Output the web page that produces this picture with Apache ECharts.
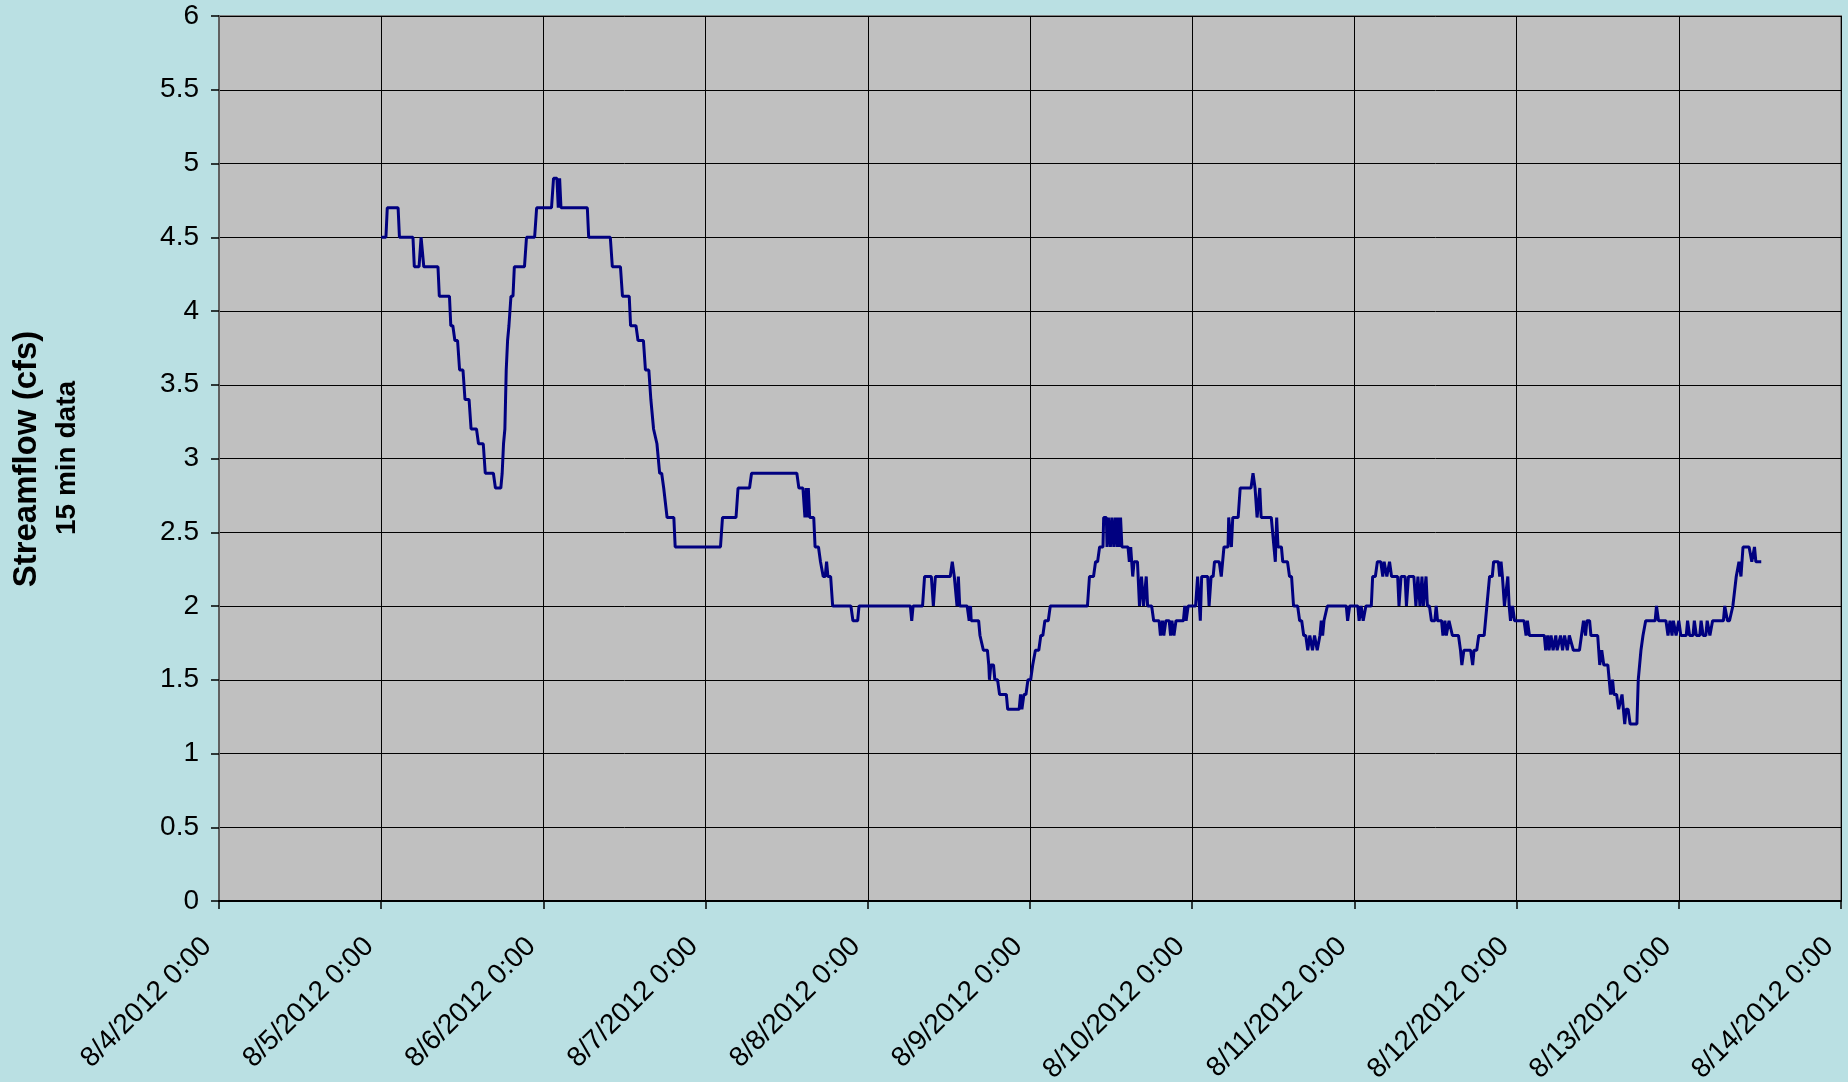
<!DOCTYPE html>
<html>
<head>
<meta charset="utf-8">
<script src="https://cdn.jsdelivr.net/npm/echarts@6/dist/echarts.min.js"></script>
<style>
html,body{margin:0;padding:0;background:#BAE0E3;}
#chart{width:1848px;height:1082px;}
</style>
</head>
<body>
<div id="chart"></div>
<script>
// x tick labels (one per day, 8/4 through 8/14)
var dayLabels = ['8/4/2012 0:00','8/5/2012 0:00','8/6/2012 0:00','8/7/2012 0:00','8/8/2012 0:00','8/9/2012 0:00','8/10/2012 0:00','8/11/2012 0:00','8/12/2012 0:00','8/13/2012 0:00','8/14/2012 0:00'];
// hours from 8/4/2012 0:00 at which the record starts
var recordStartHour = 24;
// [hours since 8/5/2012 0:00, streamflow cfs] readings (level changes of the 15-min record)
var readings = [
[0,4.5],[0.7,4.5],[0.9,4.7],[2.5,4.7],[2.7,4.5],[4.7,4.5],[4.9,4.3],[5.6,4.3],[5.9,4.5],[6.3,4.3],[8.4,4.3],[8.6,4.1],[10.1,4.1],[10.3,3.9],[10.6,3.9],[10.9,3.8],[11.3,3.8],[11.6,3.6],[12.1,3.6],[12.4,3.4],[13.0,3.4],[13.3,3.2],[14.1,3.2],[14.4,3.1],[15.1,3.1],[15.4,2.9],[16.6,2.9],[16.9,2.8],[17.7,2.8],[17.9,2.9],[18.1,3.1],[18.3,3.2],[18.5,3.6],[18.7,3.8],[18.9,3.9],[19.2,4.1],[19.5,4.1],[19.7,4.3],[21.2,4.3],[21.5,4.5],[22.7,4.5],[23.0,4.7],[25.2,4.7],[25.5,4.9],[26.0,4.9],[26.2,4.7],[26.4,4.9],[26.6,4.7],[30.5,4.7],[30.7,4.5],[33.9,4.5],[34.2,4.3],[35.4,4.3],[35.7,4.1],[36.7,4.1],[36.9,3.9],[37.7,3.9],[38.0,3.8],[38.8,3.8],[39.1,3.6],[39.6,3.6],[39.9,3.4],[40.1,3.4],[40.3,3.2],[40.5,3.2],[40.8,3.1],[41.0,3.1],[41.2,2.9],[41.5,2.9],[41.8,2.8],[42.0,2.8],[42.3,2.6],[43.3,2.6],[43.5,2.4],[50.2,2.4],[50.5,2.6],[52.5,2.6],[52.8,2.8],[54.5,2.8],[54.8,2.9],[61.5,2.9],[61.8,2.8],[62.4,2.8],[62.7,2.6],[62.9,2.8],[63.1,2.6],[63.2,2.8],[63.4,2.6],[64.0,2.6],[64.2,2.4],[64.7,2.4],[65.0,2.3],[65.2,2.3],[65.4,2.2],[65.7,2.2],[65.9,2.3],[66.1,2.2],[66.5,2.2],[66.8,2.0],[69.5,2.0],[69.8,1.9],[70.5,1.9],[70.7,2.0],
[78.3,2.0],[78.5,1.9],[78.7,2.0],[80.1,2.0],[80.4,2.2],[81.4,2.2],[81.7,2.0],[82.0,2.2],[84.2,2.2],[84.5,2.3],[84.8,2.2],[85.0,2.2],[85.2,2.0],[85.4,2.2],[85.6,2.0],[86.7,2.0],[87.0,1.9],[87.2,2.0],[87.3,1.9],[88.4,1.9],[88.6,1.8],[88.8,1.8],[89.1,1.7],[89.7,1.7],[89.9,1.6],[90.0,1.5],[90.2,1.6],[90.6,1.6],[90.8,1.5],[91.2,1.5],[91.5,1.4],[92.5,1.4],[92.7,1.3],[94.4,1.3],[94.6,1.4],[94.8,1.3],[95.1,1.4],[95.4,1.4],[95.7,1.5],[96.1,1.5],[96.4,1.6],[96.6,1.6],[96.8,1.7],[97.3,1.7],[97.6,1.8],[97.9,1.8],[98.2,1.9],[98.7,1.9],[99.0,2.0],
[104.5,2.0],[104.8,2.2],[105.4,2.2],[105.7,2.3],[106.0,2.3],[106.3,2.4],[106.8,2.4],[106.9,2.6],[107.3,2.6],[107.4,2.4],[107.6,2.6],[107.9,2.4],[108.1,2.6],[108.4,2.4],[108.6,2.6],[108.9,2.4],[109.0,2.6],[109.2,2.4],[109.4,2.6],[109.6,2.4],[110.5,2.4],[110.7,2.3],[110.9,2.4],[111.2,2.2],[111.4,2.3],[111.9,2.3],[112.2,2.0],[112.5,2.2],[112.8,2.0],[113.2,2.2],[113.4,2.0],[114.0,2.0],[114.3,1.9],[115.1,1.9],[115.3,1.8],[115.6,1.9],[115.8,1.8],[116.1,1.9],[116.6,1.9],[116.8,1.8],[117.0,1.9],[117.3,1.8],[117.6,1.9],[118.7,1.9],[118.9,2.0],[119.1,1.9],[119.4,2.0],
[120.5,2.0],[120.8,2.2],[121.0,2.2],[121.2,1.9],[121.4,2.2],[122.3,2.2],[122.5,2.0],[122.8,2.2],[123.1,2.2],[123.3,2.3],[124.0,2.3],[124.3,2.2],[124.7,2.4],[125.3,2.4],[125.4,2.6],[125.8,2.4],[126.0,2.6],[126.8,2.6],[127.1,2.8],[128.7,2.8],[129.0,2.9],[129.3,2.8],[129.6,2.6],[130.0,2.8],[130.2,2.6],[131.7,2.6],[132.3,2.3],[132.5,2.6],[132.7,2.4],[133.2,2.4],[133.4,2.3],[134.1,2.3],[134.4,2.2],[134.7,2.2],[135.0,2.0],[135.6,2.0],[135.9,1.9],[136.2,1.9],[136.5,1.8],[136.8,1.8],[137.1,1.7],[137.4,1.8],[137.8,1.7],[138.1,1.8],[138.5,1.7],[138.9,1.8],[139.1,1.9],[139.3,1.8],[139.5,1.9],[140.0,2.0],[142.8,2.0],[143.0,1.9],[143.3,2.0],
[144.5,2.0],[144.7,1.9],[145.0,2.0],[145.3,1.9],[145.7,2.0],[146.5,2.0],[146.7,2.2],[147.1,2.2],[147.4,2.3],[147.9,2.3],[148.2,2.2],[148.4,2.3],[148.8,2.2],[149.2,2.3],[149.5,2.2],[150.4,2.2],[150.6,2.0],[150.9,2.2],[151.5,2.2],[151.7,2.0],[152.0,2.2],[152.8,2.2],[153.1,2.0],[153.4,2.2],[153.7,2.0],[154.0,2.2],[154.2,2.0],[154.6,2.2],[154.8,2.0],[155.1,2.0],[155.4,1.9],[155.9,1.9],[156.1,2.0],[156.3,1.9],[156.9,1.9],[157.1,1.8],[157.4,1.9],[157.6,1.8],[158.0,1.9],[158.5,1.8],[159.4,1.8],[159.7,1.7],[159.9,1.6],[160.2,1.7],[161.2,1.7],[161.5,1.6],[161.7,1.7],[162.1,1.7],[162.4,1.8],[163.2,1.8],[163.6,2.0],[164.0,2.2],[164.4,2.2],[164.6,2.3],[165.3,2.3],[165.5,2.2],[165.7,2.3],[165.9,2.2],[166.2,2.0],[166.7,2.2],[166.9,2.0],[167.1,1.9],[167.4,2.0],[167.7,1.9],
[169.1,1.9],[169.4,1.8],[169.6,1.9],[169.9,1.8],[172.1,1.8],[172.3,1.7],[172.6,1.8],[172.8,1.7],[173.1,1.8],[173.4,1.7],[173.8,1.8],[174.0,1.7],[174.5,1.8],[174.8,1.7],[175.1,1.8],[175.5,1.7],[175.8,1.8],[176.4,1.7],[177.3,1.7],[177.6,1.8],[177.9,1.9],[178.2,1.8],[178.4,1.9],[178.8,1.9],[179.0,1.8],[180.0,1.8],[180.3,1.6],[180.6,1.7],[180.9,1.6],[181.5,1.6],[181.9,1.4],[182.2,1.5],[182.4,1.4],[182.8,1.4],[183.1,1.3],[183.6,1.4],[183.8,1.3],[184.0,1.2],[184.2,1.3],[184.5,1.3],[184.8,1.2],[185.8,1.2],[186.0,1.5],[186.4,1.7],[186.7,1.8],[187.1,1.9],[188.5,1.9],[188.7,2.0],[189.0,1.9],[190.1,1.9],[190.4,1.8],[190.7,1.9],[191.0,1.8],[191.2,1.9],[191.6,1.8],[192.0,1.9],[192.3,1.8],[193.1,1.8],[193.3,1.9],[193.6,1.8],[194.1,1.8],[194.3,1.9],[194.6,1.8],[195.1,1.8],[195.3,1.9],[195.6,1.8],[196.0,1.8],[196.2,1.9],[196.6,1.8],[196.7,1.8],[197.0,1.9],[198.6,1.9],[198.8,2.0],[199.2,1.9],[199.5,1.9],[200.0,2.0],[200.5,2.2],[200.9,2.3],[201.2,2.2],[201.5,2.4],[202.4,2.4],[202.8,2.3],[203.2,2.4],[203.4,2.3],[204.2,2.3]
];
var yTitle = 'Streamflow (cfs)';
var ySubTitle = '15 min data';

var seriesData = readings.map(function(r){ return [r[0] + recordStartHour, r[1]]; });

var chart = echarts.init(document.getElementById('chart'));
var font = 'Arial, "Liberation Sans", sans-serif';
chart.setOption({
  animation: false,
  backgroundColor: '#BAE0E3',
  grid: {
    left: 219, right: 7, top: 16, bottom: 181,
    outerBoundsMode: 'none', containLabel: false,
    show: true, backgroundColor: '#C0C0C0', borderColor: '#808080', borderWidth: 2
  },
  xAxis: {
    type: 'value', min: 0, max: 240, interval: 24,
    axisLine: { show: true, lineStyle: { color: '#000000', width: 2 } },
    axisTick: { show: true, length: 8, lineStyle: { color: '#000000', width: 1.5 } },
    splitLine: { show: true, lineStyle: { color: '#000000', width: 1 } },
    axisLabel: {
      rotate: 45, fontSize: 28, color: '#000000', fontFamily: font, margin: 29,
      padding: [0, 17, 0, 0],
      formatter: function(v){ return dayLabels[Math.round(v / 24)]; }
    }
  },
  yAxis: {
    type: 'value', min: 0, max: 6, interval: 0.5,
    axisLine: { show: true, lineStyle: { color: '#606060', width: 2 } },
    axisTick: { show: true, length: 8, lineStyle: { color: '#000000', width: 1.5 } },
    splitLine: { show: true, lineStyle: { color: '#000000', width: 1 } },
    axisLabel: { fontSize: 28, color: '#000000', fontFamily: font, margin: 20 }
  },
  graphic: [
    { type: 'text', x: 27, y: 459, rotation: Math.PI / 2,
      style: { text: yTitle, font: 'bold 33px ' + font, fill: '#000000', textAlign: 'center', textVerticalAlign: 'middle' } },
    { type: 'text', x: 67, y: 458, rotation: Math.PI / 2,
      style: { text: ySubTitle, font: 'bold 28px ' + font, fill: '#000000', textAlign: 'center', textVerticalAlign: 'middle' } }
  ],
  series: [{
    type: 'line', data: seriesData, showSymbol: false, symbol: 'none',
    lineStyle: { color: '#000080', width: 3 }
  }]
});
</script>
</body>
</html>
